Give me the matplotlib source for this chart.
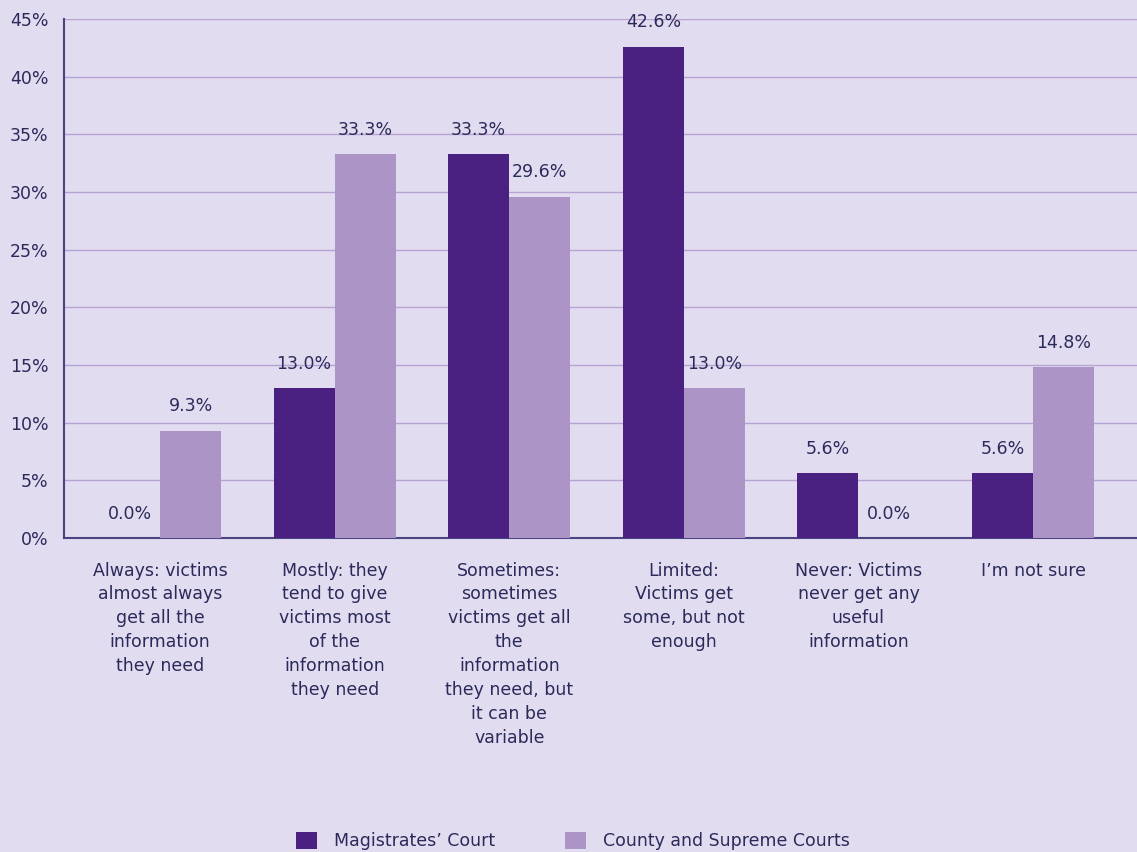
import matplotlib.pyplot as plt
import numpy as np

# survey responses per category, percent
categories = [
    "Always: victims\nalmost always\nget all the\ninformation\nthey need",
    "Mostly: they\ntend to give\nvictims most\nof the\ninformation\nthey need",
    "Sometimes:\nsometimes\nvictims get all\nthe\ninformation\nthey need, but\nit can be\nvariable",
    "Limited:\nVictims get\nsome, but not\nenough",
    "Never: Victims\nnever get any\nuseful\ninformation",
    "I\u2019m not sure",
]
magistrates = [0.0, 13.0, 33.3, 42.6, 5.6, 5.6]
county_supreme = [9.3, 33.3, 29.6, 13.0, 0.0, 14.8]
series_names = ["Magistrates\u2019 Court", "County and Supreme Courts"]

bg = "#e2dcf0"
dark = "#4a2180"
light = "#ad94c6"
txt = "#2b2a5a"
fs = 12.5

plt.rcParams['font.family'] = ['DejaVu Sans']

fig = plt.figure(figsize=(11.37, 8.52), dpi=100, facecolor=bg)
ax = fig.add_axes([64 / 1137, 1 - 538 / 852, 1 - 64 / 1137, (538 - 19) / 852])
ax.set_facecolor(bg)

x = np.arange(len(categories))
w = 0.35
b1 = ax.bar(x - w / 2, magistrates, w, color=dark, label=series_names[0], zorder=3)
b2 = ax.bar(x + w / 2, county_supreme, w, color=light, label=series_names[1], zorder=3)

for bars, vals in ((b1, magistrates), (b2, county_supreme)):
    for r, v in zip(bars, vals):
        ax.annotate(f"{v:.1f}%", (r.get_x() + r.get_width() / 2, v),
                    xytext=(0, 11), textcoords="offset points",
                    ha="center", va="bottom", fontsize=fs, color=txt)

ax.set_ylim(0, 45)
ax.set_xlim(-0.55, 5.595)
ax.set_yticks(np.arange(0, 46, 5))
ax.set_yticklabels([f"{t}%" for t in range(0, 46, 5)], fontsize=fs, color=txt)
ax.yaxis.grid(True, color="#b6a3d4", linewidth=1, zorder=0)
ax.tick_params(axis="y", length=0, pad=11)
ax.set_xticks(x)
ax.set_xticklabels(categories, fontsize=fs, color=txt, linespacing=1.42)
ax.tick_params(axis="x", length=0, pad=17)

for s in ("top", "right"):
    ax.spines[s].set_visible(False)
ax.spines["left"].set_color("#4a4580")
ax.spines["bottom"].set_color("#4a4580")
ax.spines["left"].set_linewidth(1.5)
ax.spines["bottom"].set_linewidth(1.5)

fig.legend(handles=[b1, b2], loc="center", bbox_to_anchor=(573 / 1137, 1 - 841 / 852),
           ncol=2, frameon=False, fontsize=fs, labelcolor=txt,
           handlelength=1.2, handleheight=1.2, columnspacing=4.0, handletextpad=1.0)

fig.savefig("out.png", dpi=100, facecolor=bg)
